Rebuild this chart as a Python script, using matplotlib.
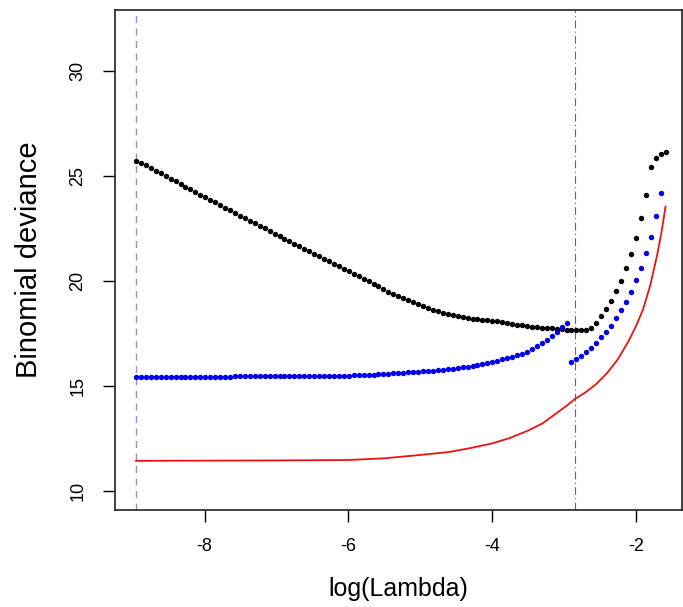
import numpy as np
import matplotlib
matplotlib.use("Agg")
import matplotlib.pyplot as plt

# log(Lambda) grid - evenly spaced lambda path
lam_first = -8.954
lam_last = -1.588
n_lambda = 108
log_lambda = np.linspace(lam_first, lam_last, n_lambda)

# black points (one per lambda)
dev_black = [25.72, 25.61, 25.50, 25.37, 25.25, 25.12, 24.99, 24.87, 24.74, 24.61,
             24.49, 24.36, 24.24, 24.11, 23.99, 23.86, 23.74, 23.61, 23.49, 23.36,
             23.24, 23.11, 22.99, 22.87, 22.74, 22.62, 22.50, 22.38, 22.26, 22.14,
             22.02, 21.90, 21.78, 21.66, 21.54, 21.42, 21.30, 21.18, 21.06, 20.94,
             20.82, 20.70, 20.58, 20.46, 20.34, 20.22, 20.10, 19.98, 19.86, 19.74,
             19.62, 19.50, 19.39, 19.28, 19.18, 19.08, 18.98, 18.89, 18.80, 18.71,
             18.63, 18.56, 18.49, 18.43, 18.37, 18.32, 18.28, 18.24, 18.20, 18.18,
             18.16, 18.14, 18.12, 18.09, 18.05, 18.01, 17.97, 17.93, 17.89, 17.86,
             17.83, 17.80, 17.78, 17.76, 17.74, 17.72, 17.70, 17.68, 17.66, 17.65,
             17.66, 17.68, 17.75, 18.01, 18.33, 18.65, 19.06, 19.51, 20.01, 20.63,
             21.29, 22.06, 22.98, 24.10, 25.44, 25.84, 26.05, 26.16]

# blue points (ends one lambda earlier)
dev_blue = [15.45, 15.45, 15.45, 15.45, 15.45, 15.45, 15.45, 15.45, 15.45, 15.45,
            15.45, 15.45, 15.45, 15.45, 15.45, 15.45, 15.45, 15.45, 15.45, 15.45,
            15.46, 15.46, 15.46, 15.46, 15.46, 15.46, 15.46, 15.46, 15.47, 15.47,
            15.47, 15.47, 15.47, 15.47, 15.47, 15.48, 15.48, 15.48, 15.48, 15.49,
            15.49, 15.49, 15.49, 15.50, 15.51, 15.52, 15.53, 15.54, 15.55, 15.56,
            15.57, 15.59, 15.60, 15.62, 15.63, 15.65, 15.66, 15.68, 15.70, 15.72,
            15.74, 15.76, 15.78, 15.80, 15.83, 15.86, 15.89, 15.93, 15.97, 16.01,
            16.05, 16.10, 16.15, 16.21, 16.28, 16.34, 16.40, 16.46, 16.53, 16.62,
            16.75, 16.89, 17.03, 17.21, 17.40, 17.58, 17.80, 18.01, 16.13, 16.29,
            16.45, 16.60, 16.82, 17.06, 17.32, 17.59, 17.87, 18.22, 18.60, 19.01,
            19.48, 20.05, 20.62, 21.35, 22.11, 23.10, 24.20]

# red curve
red_x = [-8.954, -8.0, -7.0, -6.0, -5.5, -5.0, -4.6, -4.3, -4.0, -3.75, -3.5, -3.3,
         -3.1, -2.95, -2.85, -2.7, -2.55, -2.4, -2.25, -2.1, -2.0, -1.9, -1.8,
         -1.7, -1.64, -1.588]
red_y = [11.44, 11.45, 11.46, 11.48, 11.56, 11.72, 11.86, 12.05, 12.27, 12.53, 12.88,
         13.22, 13.72, 14.10, 14.38, 14.70, 15.10, 15.62, 16.28, 17.15, 17.84, 18.65,
         19.80, 21.30, 22.40, 23.54]

lambda_min = -8.954                                                             # blue dashed line
lambda_1se = -2.843                                                             # grey dot-dash line

xticks = [-8, -6, -4, -2]
yticks = [10, 15, 20, 25, 30]

plt.rcParams["font.family"] = ["Liberation Sans", "DejaVu Sans"]

fig = plt.figure(figsize=(6.83, 6.07), dpi=100)
ax = fig.add_axes([0.1684, 0.1598, 0.830, 0.8237])

ax.axvline(lambda_min, color="#8f8fe0", lw=1.0, ls=(0, (5, 4)))
ax.axvline(lambda_1se, color="#666666", lw=0.8, ls=(0, (7, 3, 1, 3)))

ax.plot(red_x, red_y, color="#ee1111", lw=1.3)
ax.plot(log_lambda, dev_black, "o", color="black", ms=3.9, mew=0)
ax.plot(log_lambda[:len(dev_blue)], dev_blue, "o", color="#0000ee", ms=3.9, mew=0)

ax.set_xlim(-9.246, -1.36)
ax.set_ylim(9.1, 32.9)
ax.set_xticks(xticks)
ax.set_yticks(yticks)
ax.set_xticklabels([str(t) for t in xticks])
ax.set_yticklabels([str(t) for t in yticks], rotation=90, va="center")
ax.tick_params(direction="out", length=8.5, width=1.0, labelsize=13, pad=12)

for s in ax.spines.values():
    s.set_linewidth(1.2)
    s.set_color("#222222")

ax.set_xlabel("log(Lambda)", fontsize=18)
ax.set_ylabel("Binomial deviance", fontsize=21)
ax.xaxis.set_label_coords(0.5, -0.135)
ax.yaxis.set_label_coords(-0.127, 0.5)

plt.savefig("out.png", dpi=100)
